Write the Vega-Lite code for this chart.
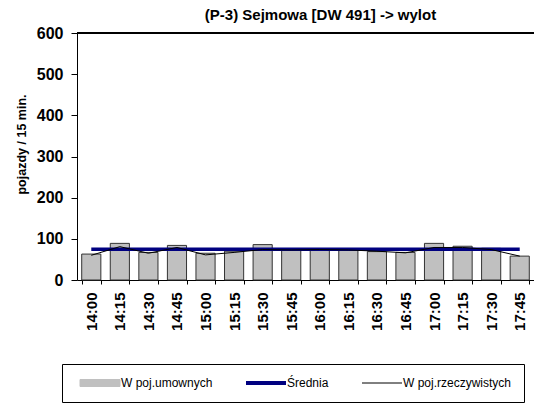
{
  "$schema": "https://vega.github.io/schema/vega-lite/v6.json",
  "width": 457,
  "height": 247,
  "autosize": {"type": "none"},
  "padding": {"left": 77, "top": 33, "right": 0, "bottom": 123},
  "background": "white",
  "title": {
    "text": "(P-3) Sejmowa [DW 491] -> wylot",
    "font": "Liberation Sans",
    "fontSize": 15,
    "fontWeight": "bold",
    "color": "black",
    "anchor": "middle",
    "dx": 15,
    "offset": 2
  },
  "data": {
    "values": [
      {"czas": "14:00", "umowne": 63, "rzecz": 60, "srednia": 75},
      {"czas": "14:15", "umowne": 89, "rzecz": 81, "srednia": 75},
      {"czas": "14:30", "umowne": 67, "rzecz": 65, "srednia": 75},
      {"czas": "14:45", "umowne": 84, "rzecz": 79, "srednia": 75},
      {"czas": "15:00", "umowne": 65, "rzecz": 61, "srednia": 75},
      {"czas": "15:15", "umowne": 70, "rzecz": 67, "srednia": 75},
      {"czas": "15:30", "umowne": 86, "rzecz": 74, "srednia": 75},
      {"czas": "15:45", "umowne": 74, "rzecz": 73, "srednia": 75},
      {"czas": "16:00", "umowne": 74, "rzecz": 74, "srednia": 75},
      {"czas": "16:15", "umowne": 75, "rzecz": 73, "srednia": 75},
      {"czas": "16:30", "umowne": 69, "rzecz": 70, "srednia": 75},
      {"czas": "16:45", "umowne": 67, "rzecz": 66, "srednia": 75},
      {"czas": "17:00", "umowne": 89, "rzecz": 79, "srednia": 75},
      {"czas": "17:15", "umowne": 82, "rzecz": 79, "srednia": 75},
      {"czas": "17:30", "umowne": 77, "rzecz": 74, "srednia": 75},
      {"czas": "17:45", "umowne": 58, "rzecz": 58, "srednia": 75}
    ]
  },
  "encoding": {
    "x": {
      "field": "czas",
      "type": "nominal",
      "sort": null,
      "scale": {"paddingInner": 0.33, "paddingOuter": 0.165},
      "axis": {
        "title": null,
        "labelAngle": 270,
        "labelFont": "Liberation Sans",
        "labelFontSize": 15,
        "labelFontWeight": "bold",
        "labelColor": "black",
        "labelPadding": 8,
        "tickBand": "extent",
        "tickSize": 4,
        "tickColor": "black",
        "domainColor": "black",
        "grid": false
      }
    }
  },
  "layer": [
    {
      "mark": {"type": "rule", "color": "black", "strokeWidth": 1},
      "encoding": {"x": null, "y": {"datum": 600, "type": "quantitative"}}
    },
    {
      "mark": {"type": "bar", "stroke": "#333333", "strokeWidth": 1},
      "encoding": {
        "y": {
          "field": "umowne",
          "type": "quantitative",
          "scale": {"domain": [0, 600], "nice": false},
          "axis": {
            "values": [0, 100, 200, 300, 400, 500, 600],
            "title": "pojazdy / 15 min.",
            "titleFont": "Liberation Sans",
            "titleFontSize": 12.5,
            "titleFontWeight": "bold",
            "titleColor": "black",
            "titleAngle": 270,
            "titleX": -56,
            "titleY": 111,
            "titleAlign": "center",
            "titleBaseline": "middle",
            "labelFont": "Liberation Sans",
            "labelFontSize": 16,
            "labelFontWeight": "bold",
            "labelColor": "black",
            "labelPadding": 8,
            "tickSize": 6,
            "tickColor": "black",
            "domainColor": "black",
            "grid": false
          }
        },
        "color": {
          "datum": "W poj.umownych",
          "scale": {
            "domain": ["W poj.umownych", "Średnia", "W poj.rzeczywistych"],
            "range": ["#C0C0C0", "#000080", "#000000"]
          },
          "legend": {
            "title": null,
            "orient": "none",
            "legendX": -15,
            "legendY": 331,
            "direction": "horizontal",
            "columns": 3,
            "padding": 12,
            "strokeColor": "black",
            "fillColor": "white",
            "columnPadding": 27,
            "symbolOffset": 20,
            "labelOffset": 15,
            "symbolSize": 1600,
            "clipHeight": 14,
            "symbolType": {"expr": "datum.value === 'W poj.umownych' ? 'M-1,-0.175H1V0.175H-1Z' : 'stroke'"},
            "symbolStrokeWidth": {"expr": "datum.value === 'Średnia' ? 4 : 1"},
            "symbolOpacity": 1,
            "labelFont": "Liberation Sans",
            "labelFontSize": 12,
            "labelColor": "black"
          }
        }
      }
    },
    {
      "mark": {"type": "line", "strokeWidth": 3.5},
      "encoding": {
        "y": {"field": "srednia", "type": "quantitative"},
        "color": {"datum": "Średnia"}
      }
    },
    {
      "mark": {"type": "line", "strokeWidth": 1},
      "encoding": {
        "y": {"field": "rzecz", "type": "quantitative"},
        "color": {"datum": "W poj.rzeczywistych"}
      }
    }
  ],
  "config": {
    "view": {"stroke": null},
    "font": "Liberation Sans"
  }
}
